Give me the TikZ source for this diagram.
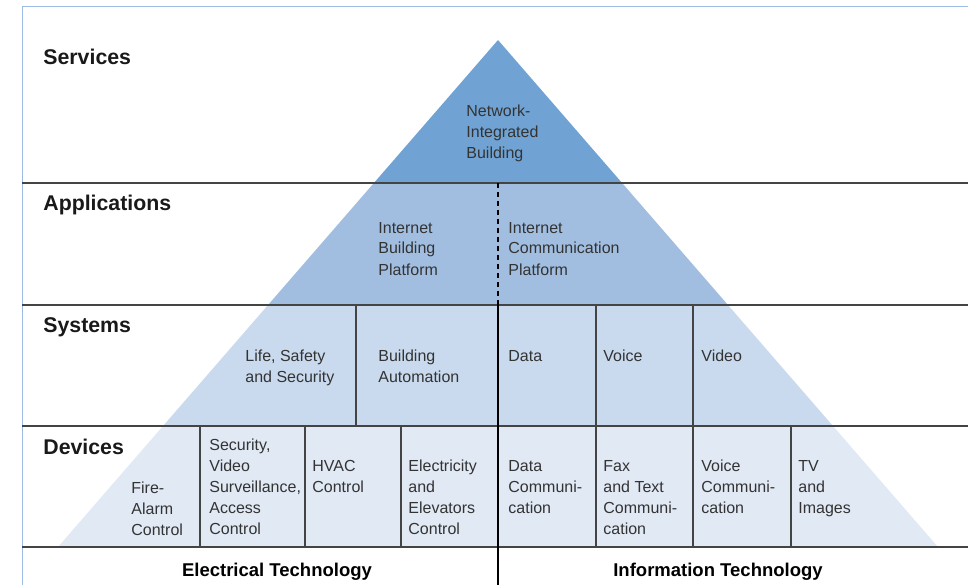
\documentclass[tikz,border=0pt]{standalone}
\usepackage{fontspec}
\setmainfont{Liberation Sans}
\definecolor{servblue}{HTML}{70A3D3}
\definecolor{appblue}{HTML}{A1BEE1}
\definecolor{sysblue}{HTML}{C9DAEE}
\definecolor{devblue}{HTML}{E1E9F5}
\definecolor{frameblue}{HTML}{9DBCE3}
\definecolor{rulegray}{HTML}{444444}
\definecolor{textgray}{HTML}{333333}

\begin{document}
\begin{tikzpicture}[x=1pt,y=-1pt,thick]
    % `heading' is used for the layer names on the left,
    % `boxtext' for the texts inside the pyramid (placed by the baseline of their last line),
    % `footer' for the two technology names at the bottom.
    \tikzstyle{heading} = [anchor=base west,inner sep=0pt,text=black!90,font=\fontsize{21.3}{25}\selectfont\bfseries]
    \tikzstyle{boxtext} = [anchor=base west,inner sep=0pt,align=left,text=textgray,font=\fontsize{16}{21}\selectfont]
    \tikzstyle{footer} = [anchor=base,inner sep=0pt,text=black,font=\fontsize{18.5}{22}\selectfont\bfseries]
    \tikzstyle{layerrule} = [draw=rulegray,line width=1.4pt]
    \tikzstyle{cellrule} = [draw=rulegray,line width=1.2pt]
    %
    \useasboundingbox (0,0) rectangle (968,585);
    % Pyramid, one colour per layer.
    \begin{scope}
      \clip (498,40) -- (938,547) -- (58,547) -- cycle;
      \fill[servblue] (0,0) rectangle (968,183);
      \fill[appblue] (0,183) rectangle (968,305);
      \fill[sysblue] (0,305) rectangle (968,426);
      \fill[devblue] (0,426) rectangle (968,547);
    \end{scope}
    % Frame.
    \draw[frameblue,line width=1pt] (22,585) -- (22,7) -- (968,7);
    % Layer rules and cells.
    \foreach \y in {183,305,426,547}
      \draw[layerrule] (22,\y) -- (968,\y);
    \foreach \x in {356,596,693}
      \draw[cellrule] (\x,305) -- (\x,426);
    \foreach \x in {200,305,401,596,693,791}
      \draw[cellrule] (\x,426) -- (\x,547);
    % Divider between the two technologies.
    \draw[line width=2.6pt,dash pattern=on 5pt off 4pt] (498,183) -- (498,305);
    \draw[line width=2pt] (498,305) -- (498,585);
    %
    \node[heading] (services) at (43,65) {Services};
    \node[heading] (applications) at (43,211) {Applications};
    \node[heading] (systems) at (43,332) {Systems};
    \node[heading] (devices) at (43,454) {Devices};
    %
    \node[boxtext] (nib) at (466,159) {Network-\\Integrated\\Building};
    \node[boxtext] (ibp) at (378,275) {Internet\\Building\\Platform};
    \node[boxtext] (icp) at (508,275) {Internet\\Communication\\Platform};
    %
    \node[boxtext] (life) at (245,382) {Life, Safety\\and Security};
    \node[boxtext] (automation) at (378,382) {Building\\Automation};
    \node[boxtext] (data) at (508,361) {Data};
    \node[boxtext] (voice) at (603,361) {Voice};
    \node[boxtext] (video) at (701,361) {Video};
    %
    \node[boxtext] (fire) at (131,535) {Fire-\\Alarm\\Control};
    \node[boxtext] (security) at (209,534) {Security,\\Video\\Surveillance,\\Access\\Control};
    \node[boxtext] (hvac) at (312,492) {HVAC\\Control};
    \node[boxtext] (elevators) at (408,534) {Electricity\\and\\Elevators\\Control};
    \node[boxtext] (datacom) at (508,513) {Data\\Communi-\\cation};
    \node[boxtext] (fax) at (603,534) {Fax\\and Text\\Communi-\\cation};
    \node[boxtext] (voicecom) at (701,513) {Voice\\Communi-\\cation};
    \node[boxtext] (tv) at (798,513) {TV\\and\\Images};
    %
    \node[footer] (electrical) at (277,576) {Electrical Technology};
    \node[footer] (information) at (718,576) {Information Technology};
\end{tikzpicture}
\end{document}
